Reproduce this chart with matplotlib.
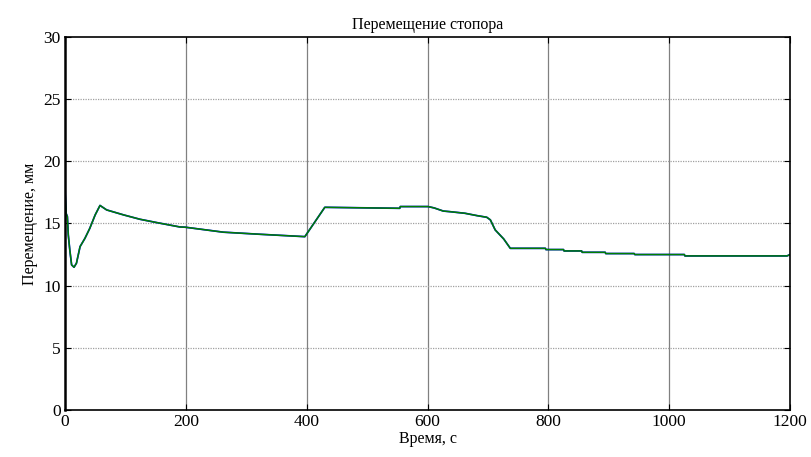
import matplotlib.pyplot as plt
import numpy as np

# data
time_s = [0, 0, 0.5, 2, 4, 5.5, 8, 11, 15, 19, 25, 33, 41, 50, 58, 69, 97, 124, 152,
          190, 199, 262, 323, 397, 430, 554, 555, 601, 611, 626, 637, 662, 682,
          698, 704, 712, 726, 737, 795, 796, 825, 826, 855, 856, 894, 895, 942,
          943, 1025, 1026, 1195, 1200]
disp_mm = [0, 18.25, 17.3, 15.8, 15.55, 14.08, 12.87, 11.67, 11.48, 11.8, 13.14,
           13.8, 14.6, 15.69, 16.45, 16.09, 15.69, 15.34, 15.07, 14.72, 14.70,
           14.3, 14.13, 13.94, 16.3, 16.22, 16.36, 16.36, 16.25, 16.0, 15.95,
           15.82, 15.63, 15.5, 15.29, 14.48, 13.76, 13.0, 13.0, 12.9, 12.9,
           12.79, 12.79, 12.68, 12.68, 12.58, 12.58, 12.5, 12.5, 12.39, 12.39,
           12.5]

xticks = [0, 200, 400, 600, 800, 1000, 1200]
yticks = [0, 5, 10, 15, 20, 25, 30]

plt.rcParams['font.family'] = ['Liberation Serif', 'DejaVu Serif']

fig = plt.figure(figsize=(8.12, 4.57), dpi=100)
ax = fig.add_axes([0.080, 0.103, 0.893, 0.816])

ax.plot(time_s, disp_mm, color='#0000ff', lw=1.25)
ax.plot(time_s, disp_mm, color='#007f00', lw=1.1)

ax.set_xlim(0, 1200)
ax.set_ylim(0, 30)
ax.set_xticks(xticks)
ax.set_yticks(yticks)

for x in xticks[1:-1]:
    ax.axvline(x, color='#808080', lw=0.9, zorder=0)
for y in yticks[1:-1]:
    ax.axhline(y, color='#a0a0a0', lw=0.9, ls=(0, (1, 1)), zorder=0)

ax.tick_params(direction='in', top=True, right=True, length=4, labelsize=12.5, pad=3)
for s in ax.spines.values():
    s.set_linewidth(1.2)
ax.spines['left'].set_linewidth(1.8)

ax.set_title('Перемещение стопора', fontsize=11.5, pad=6)
ax.set_xlabel('Время, с', fontsize=11.5, labelpad=1)
ax.set_ylabel('Перемещение, мм', fontsize=11.5, labelpad=4)

fig.savefig('out.png', dpi=100)
